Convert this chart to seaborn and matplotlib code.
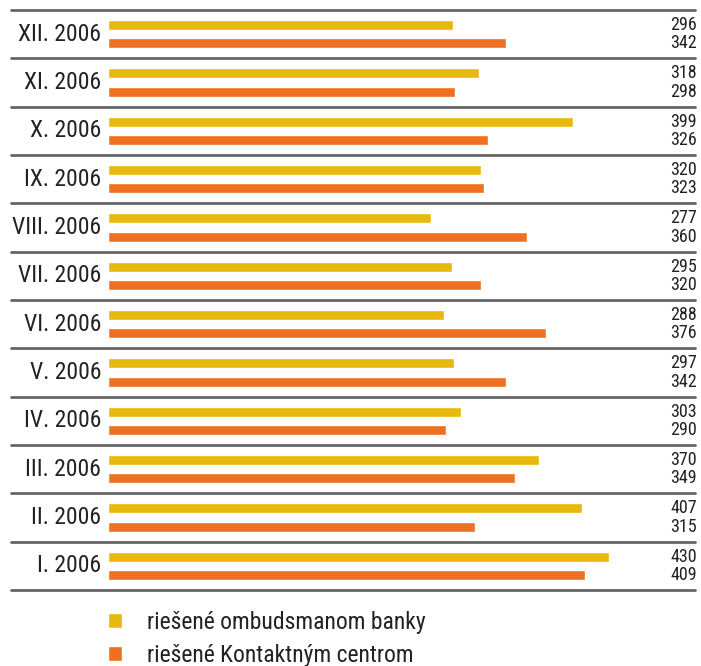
import matplotlib
matplotlib.use("Agg")
import matplotlib.pyplot as plt
from matplotlib import font_manager
import pandas as pd
import seaborn as sns

# Monthly counts of resolved cases
months = ["XII. 2006", "XI. 2006", "X. 2006", "IX. 2006", "VIII. 2006", "VII. 2006",
          "VI. 2006", "V. 2006", "IV. 2006", "III. 2006", "II. 2006", "I. 2006"]
ombudsman = [296, 318, 399, 320, 277, 295, 288, 297, 303, 370, 407, 430]
contact_centre = [342, 298, 326, 323, 360, 320, 376, 342, 290, 349, 315, 409]
series_names = ["riešené ombudsmanom banky", "riešené Kontaktným centrom"]
colors = ["#E8B80C", "#F07022"]

sns.set_theme(style="white")
available = {f.name for f in font_manager.fontManager.ttflist}
family = [f for f in ["Liberation Sans Narrow", "Roboto Condensed", "Open Sans", "DejaVu Sans"]
          if f in available]
plt.rcParams["font.family"] = family

df = pd.DataFrame({
    "month": months * 2,
    "value": ombudsman + contact_centre,
    "series": [series_names[0]] * len(months) + [series_names[1]] * len(months),
})

W, H = 701, 666
fig = plt.figure(figsize=(W / 100, H / 100), dpi=100)
left_px, right_px, top_px, bottom_px = 11, 695, 10, 590
ax = fig.add_axes([left_px / W, 1 - bottom_px / H,
                   (right_px - left_px) / W, (bottom_px - top_px) / H])

sns.barplot(data=df, y="month", x="value", hue="series", order=months,
            hue_order=series_names, palette=colors, orient="h",
            width=0.76, gap=0.45, ax=ax, legend=True, saturation=1)

zero_px = 108
scale = 501 / 430  # pixels per unit
ax.set_xlim(-(zero_px - left_px) / scale, (right_px - zero_px) / scale)
ax.set_ylim(len(months) - 0.5, -0.5)
ax.set_xticks([])
ax.set_yticks([])
ax.set_xlabel("")
ax.set_ylabel("")
for s in ax.spines.values():
    s.set_visible(False)

# separator lines between months
for i in range(len(months) + 1):
    ax.axhline(i - 0.5, color="#666666", lw=2.0, clip_on=False)

# month labels and value labels
for i, m in enumerate(months):
    ax.text(-6, i, m, ha="right", va="center", fontsize=17, color="#222222")
    ax.text(1.003, i - 0.19, str(ombudsman[i]), transform=ax.get_yaxis_transform(),
            ha="right", va="center", fontsize=13, color="#222222")
    ax.text(1.003, i + 0.19, str(contact_centre[i]), transform=ax.get_yaxis_transform(),
            ha="right", va="center", fontsize=13, color="#222222")

handles, labels = ax.get_legend_handles_labels()
ax.legend(handles, labels, loc="upper left",
          bbox_to_anchor=(zero_px / W, 1 - 611 / H), bbox_transform=fig.transFigure,
          frameon=False, fontsize=17, handlelength=0.6, handleheight=0.6,
          handletextpad=1.05, labelspacing=0.42, borderpad=0, borderaxespad=0,
          labelcolor="#222222")

fig.savefig("out.png", dpi=100)
